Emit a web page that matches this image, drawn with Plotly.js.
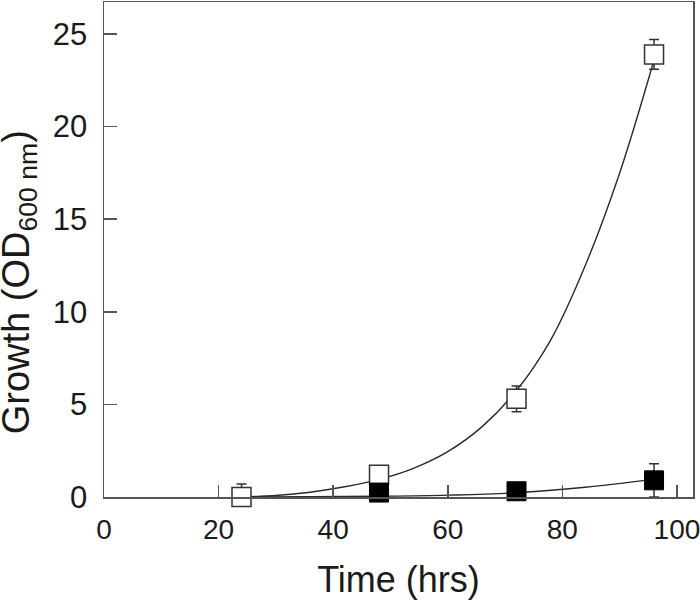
<!DOCTYPE html>
<html>
<head>
<meta charset="utf-8">
<script src="https://cdn.plot.ly/plotly-3.0.1.min.js"></script>
<style>html,body{margin:0;padding:0;background:#fff;}#chart{width:700px;height:606px;}</style>
</head>
<body>
<div id="chart"></div>
<script>
// Measured data (hours vs OD600)
var timesOpen = [24, 48, 72, 96];
var growthOpen = [0.0, 1.2, 5.3, 23.9];
var errOpen = [0.7, 0.0, 0.7, 0.8];

var timesFilled = [48, 72, 96];
var growthFilled = [0.24, 0.31, 0.9];
var errFilled = [0.0, 0.0, 0.9];

// Fitted curves
var fitTimesOpen = [24, 30, 36, 42, 48, 54, 60, 66, 72, 78, 84, 90, 96];
var fitOpen = [0.0, 0.08, 0.26, 0.55, 0.95, 1.55, 2.45, 3.8, 5.75, 8.5, 12.5, 17.5, 23.6];
var fitTimesFilled = [24, 36, 48, 60, 72, 84, 96];
var fitFilled = [0.0, 0.01, 0.04, 0.1, 0.23, 0.53, 0.95];

var xTicks = [0, 20, 40, 60, 80, 100];
var yTicks = [0, 5, 10, 15, 20, 25];

var lineCol = '#2a2a2a';
var axisCol = '#555555';
var textCol = '#1a1a1a';

var traces = [
  {x: fitTimesOpen, y: fitOpen, type: 'scatter', mode: 'lines', cliponaxis: false,
   line: {color: lineCol, width: 1.4, shape: 'spline', smoothing: 1}, hoverinfo: 'skip'},
  {x: fitTimesFilled, y: fitFilled, type: 'scatter', mode: 'lines', cliponaxis: false,
   line: {color: lineCol, width: 1.4, shape: 'spline', smoothing: 1}, hoverinfo: 'skip'},
  {x: timesOpen, y: growthOpen, type: 'scatter', mode: 'markers', cliponaxis: false,
   marker: {symbol: 'square', size: 19, color: '#ffffff', line: {color: '#333333', width: 1.5}},
   error_y: {type: 'data', array: errOpen, visible: true, color: '#333333', thickness: 1.5, width: 5}},
  {x: timesFilled, y: growthFilled, type: 'scatter', mode: 'markers', cliponaxis: false,
   marker: {symbol: 'square', size: 19, color: '#000000', line: {color: '#000000', width: 1}},
   error_y: {type: 'data', array: errFilled, visible: true, color: '#333333', thickness: 1.5, width: 5}}
];

var fam = '"Liberation Sans", Arial, sans-serif';

var layout = {
  width: 700, height: 606,
  margin: {l: 104, r: 7, t: 2, b: 109},
  paper_bgcolor: '#ffffff', plot_bgcolor: '#ffffff',
  showlegend: false,
  font: {family: fam, color: textCol},
  xaxis: {
    range: [0, 102.8], tickvals: xTicks, ticktext: xTicks.map(String),
    ticks: 'inside', ticklen: 12, tickwidth: 1.5, tickcolor: axisCol,
    showline: true, linecolor: axisCol, linewidth: 1.5, mirror: true,
    showgrid: false, zeroline: false,
    tickfont: {family: fam, size: 28, color: textCol},
    ticklabelstandoff: 7, ticklabeloverflow: 'allow',
    title: {text: 'Time (hrs)', font: {family: fam, size: 36, color: textCol}, standoff: 22}
  },
  yaxis: {
    range: [0, 26.73], tickvals: yTicks, ticktext: yTicks.map(String),
    ticks: 'inside', ticklen: 13, tickwidth: 1.5, tickcolor: axisCol,
    showline: true, linecolor: axisCol, linewidth: 1.5, mirror: true,
    showgrid: false, zeroline: false,
    tickfont: {family: fam, size: 31, color: textCol},
    ticklabelstandoff: 9, ticklabeloverflow: 'allow'
  },
  annotations: [{
    text: 'Growth (OD<sub>600 nm</sub>)', xref: 'paper', yref: 'paper',
    x: -0.145, y: 0.433, xanchor: 'center', yanchor: 'middle', textangle: -90,
    showarrow: false, font: {family: fam, size: 38, color: textCol}
  }]
};

Plotly.newPlot('chart', traces, layout, {displayModeBar: false, staticPlot: true});
</script>
</body>
</html>
